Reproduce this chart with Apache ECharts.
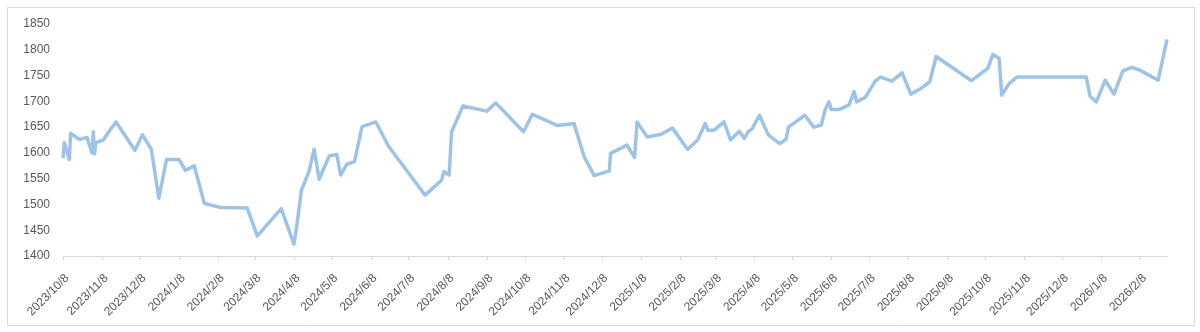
<!DOCTYPE html>
<html>
<head>
<meta charset="utf-8">
<script src="https://cdn.jsdelivr.net/npm/echarts@6/dist/echarts.min.js"></script>
<style>
  html, body { margin: 0; padding: 0; background: #fff; }
  #chart { width: 1200px; height: 332px; }
</style>
</head>
<body>
<div id="chart"></div>
<script>
// Observation dates and values of the series
const dates = [
  '2023/10/8','2023/10/9','2023/10/13','2023/10/14','2023/10/21','2023/10/27','2023/10/31','2023/11/1','2023/11/2','2023/11/3',
  '2023/11/9','2023/11/13','2023/11/19','2023/12/4','2023/12/10','2023/12/17','2023/12/23','2023/12/29','2024/1/8','2024/1/13',
  '2024/1/20','2024/1/28','2024/2/10','2024/3/2','2024/3/10','2024/3/29','2024/4/8','2024/4/10','2024/4/14','2024/4/20',
  '2024/4/24','2024/4/28','2024/5/6','2024/5/12','2024/5/15','2024/5/20','2024/5/26','2024/6/1','2024/6/12','2024/6/22',
  '2024/7/21','2024/8/3','2024/8/5','2024/8/9','2024/8/11','2024/8/20','2024/9/8','2024/9/15','2024/10/7','2024/10/14',
  '2024/11/3','2024/11/16','2024/11/24','2024/12/2','2024/12/14','2024/12/15','2024/12/28','2025/1/3','2025/1/5','2025/1/13',
  '2025/1/24','2025/2/2','2025/2/14','2025/2/22','2025/2/28','2025/3/2','2025/3/7','2025/3/15','2025/3/20','2025/3/27',
  '2025/3/31','2025/4/3','2025/4/6','2025/4/12','2025/4/19','2025/4/28','2025/5/3','2025/5/5','2025/5/18','2025/5/25',
  '2025/5/31','2025/6/3','2025/6/6','2025/6/8','2025/6/14','2025/6/22','2025/6/26','2025/6/28','2025/7/5','2025/7/13',
  '2025/7/17','2025/7/26','2025/8/3','2025/8/10','2025/8/18','2025/8/25','2025/8/30','2025/9/27','2025/10/10','2025/10/14',
  '2025/10/19','2025/10/21','2025/10/27','2025/11/2','2025/12/27','2025/12/30','2026/1/4','2026/1/11','2026/1/18','2026/1/25',
  '2026/2/1','2026/2/7','2026/2/22','2026/3/1'
];
const values = [
  1590,1620,1587,1638,1626,1630,1600,1641,1598,1620,
  1625,1640,1660,1605,1635,1607,1512,1587,1587,1566,
  1575,1502,1494,1493,1439,1492,1423,1454,1528,1564,
  1607,1549,1594,1597,1557,1578,1583,1651,1660,1613,
  1518,1547,1564,1557,1641,1691,1681,1697,1641,1675,
  1653,1657,1593,1556,1565,1599,1615,1591,1660,1631,
  1636,1648,1607,1625,1657,1644,1644,1660,1625,1642,
  1628,1641,1646,1673,1635,1618,1626,1650,1673,1650,
  1654,1683,1699,1684,1684,1693,1719,1699,1708,1740,
  1747,1739,1755,1714,1725,1738,1787,1740,1764,1791,
  1783,1712,1735,1747,1747,1710,1699,1741,1714,1759,
  1766,1761,1741,1820
];
// Monthly tick labels on the date axis
const tickLabels = [
  '2023/10/8','2023/11/8','2023/12/8','2024/1/8','2024/2/8','2024/3/8','2024/4/8','2024/5/8','2024/6/8','2024/7/8',
  '2024/8/8','2024/9/8','2024/10/8','2024/11/8','2024/12/8','2025/1/8','2025/2/8','2025/3/8','2025/4/8','2025/5/8',
  '2025/6/8','2025/7/8','2025/8/8','2025/9/8','2025/10/8','2025/11/8','2025/12/8','2026/1/8','2026/2/8'
];
const yMin = 1400, yMax = 1850, yStep = 50;

// Date strings are placed on a numeric axis as day counts (UTC-based, so no DST drift)
function toDay(s) {
  const p = s.split('/').map(Number);
  return Date.UTC(p[0], p[1] - 1, p[2]) / 86400000;
}
function fmt(v) {
  const d = new Date(Math.round(v) * 86400000);
  return d.getUTCFullYear() + '/' + (d.getUTCMonth() + 1) + '/' + d.getUTCDate();
}

const seriesData = dates.map((d, i) => [toDay(d), values[i]]);
const tickDays = tickLabels.map(toDay);

const chart = echarts.init(document.getElementById('chart'), null, { renderer: 'canvas' });
chart.setOption({
  animation: false,
  backgroundColor: '#ffffff',
  textStyle: { fontFamily: 'Liberation Sans, Arial, sans-serif' },
  graphic: [{
    type: 'rect',
    shape: { x: 7.5, y: 7.5, width: 1187, height: 318 },
    style: { fill: 'none', stroke: '#d9d9d9', lineWidth: 1 },
    silent: true
  }],
  grid: { left: 63, right: 33, top: 24, bottom: 76, containLabel: false },
  xAxis: {
    type: 'value',
    min: toDay(dates[0]),
    max: toDay(dates[dates.length - 1]),
    axisLine: { show: true, lineStyle: { color: '#d9d9d9', width: 1 } },
    axisTick: { show: true, customValues: tickDays, length: 4, lineStyle: { color: '#d9d9d9' } },
    axisLabel: {
      customValues: tickDays,
      rotate: 45,
      margin: 16,
      verticalAlign: 'top',
      color: '#595959',
      fontSize: 12,
      formatter: fmt
    },
    splitLine: { show: false }
  },
  yAxis: {
    type: 'value',
    min: yMin,
    max: yMax,
    interval: yStep,
    axisLine: { show: false },
    axisTick: { show: false },
    splitLine: { show: false },
    axisLabel: { color: '#595959', fontSize: 12, margin: 13, formatter: v => String(v) }
  },
  series: [{
    type: 'line',
    data: seriesData,
    showSymbol: false,
    symbol: 'none',
    lineStyle: { color: '#9dc3e6', width: 3.5, join: 'round' },
    itemStyle: { color: '#9dc3e6' }
  }]
});
</script>
</body>
</html>
